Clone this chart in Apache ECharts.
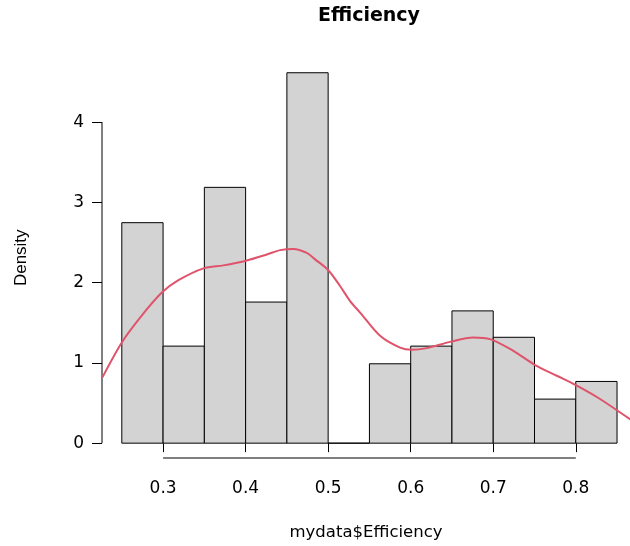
<!DOCTYPE html>
<html>
<head>
<meta charset="utf-8">
<script src="https://cdn.jsdelivr.net/npm/echarts@6/dist/echarts.min.js"></script>
<style>html,body{margin:0;padding:0;background:#fff;}#c{width:630px;height:546px;}</style>
</head>
<body>
<div id="c"></div>
<script>
// Histogram bins (density scale)
var binStarts = [0.25, 0.30, 0.35, 0.40, 0.45, 0.50, 0.55, 0.60, 0.65, 0.70, 0.75, 0.80];
var binEnds   = [0.30, 0.35, 0.40, 0.45, 0.50, 0.55, 0.60, 0.65, 0.70, 0.75, 0.80, 0.85];
var densities = [2.747, 1.209, 3.187, 1.758, 4.615, 0, 0.989, 1.209, 1.648, 1.319, 0.549, 0.769];

// Kernel density curve
var kdeX = [0.2265, 0.25, 0.2722, 0.2985, 0.3186, 0.3489, 0.3731, 0.3994, 0.4257, 0.4418, 0.4579, 0.4741, 0.4842, 0.4999, 0.5144, 0.5266, 0.5387, 0.5629, 0.5871, 0.6013, 0.6195, 0.6477, 0.6759, 0.6962, 0.7244, 0.7507, 0.7770, 0.8012, 0.8294, 0.8657, 0.874];
var kdeY = [0.82, 1.255, 1.565, 1.876, 2.03, 2.178, 2.215, 2.27, 2.35, 2.405, 2.42, 2.37, 2.29, 2.157, 1.958, 1.77, 1.627, 1.337, 1.19, 1.163, 1.184, 1.262, 1.317, 1.296, 1.15, 0.973, 0.84, 0.716, 0.55, 0.30, 0.25];

// Tick values
var xTicks = [0.3, 0.4, 0.5, 0.6, 0.7, 0.8];
var yTicks = [0, 1, 2, 3, 4];

var X_MIN = 0.226, X_MAX = 0.8657;
var Y_MIN = -0.1848, Y_MAX = 4.8048;

var barData = binStarts.map(function (s, i) { return [s, binEnds[i], densities[i]]; });
var kdeData = kdeX.map(function (x, i) { return [x, kdeY[i]]; });

var chart = echarts.init(document.getElementById('c'), null, {renderer: 'canvas'});
var hFont = 'DejaVu Sans';
chart.setOption({
  animation: false,
  backgroundColor: '#ffffff',
  title: {
    text: 'Efficiency',
    left: 369, top: 7, textAlign: 'center', padding: 0,
    textStyle: {fontFamily: hFont, fontWeight: 'bold', fontSize: 19, color: '#000'}
  },
  grid: {left: 102, right: 0, top: 57.5, bottom: 86.8, containLabel: false},
  xAxis: {
    type: 'value', min: X_MIN, max: X_MAX,
    name: 'mydata$Efficiency', nameLocation: 'middle', nameGap: 66,
    nameTextStyle: {fontFamily: hFont, fontSize: 16.5, color: '#000'},
    axisLine: {show: false},
    axisTick: {show: true, customValues: xTicks, length: 9, lineStyle: {color: '#000', width: 1}},
    axisLabel: {customValues: xTicks, margin: 22, fontFamily: hFont, fontSize: 17, color: '#000',
      formatter: function (v) { return v.toFixed(1); }},
    splitLine: {show: false}
  },
  yAxis: {
    type: 'value', min: Y_MIN, max: Y_MAX,
    name: 'Density', nameLocation: 'middle', nameGap: 72,
    nameTextStyle: {fontFamily: 'Liberation Sans', fontSize: 17, color: '#000'},
    axisLine: {show: false},
    axisTick: {show: true, customValues: yTicks, length: 10, lineStyle: {color: '#000', width: 1}},
    axisLabel: {customValues: yTicks, margin: 18, fontFamily: hFont, fontSize: 17, color: '#000'},
    splitLine: {show: false}
  },
  series: [
    {
      type: 'custom',
      name: 'hist',
      data: barData,
      renderItem: function (params, api) {
        var p0 = api.coord([api.value(0), api.value(2)]);
        var p1 = api.coord([api.value(1), 0]);
        return {
          type: 'rect',
          shape: {x: p0[0], y: p0[1], width: p1[0] - p0[0], height: p1[1] - p0[1]},
          style: {fill: '#D3D3D3', stroke: '#000', lineWidth: 1}
        };
      },
      z: 2
    },
    {
      type: 'custom',
      name: 'axes',
      data: [[0]],
      renderItem: function (params, api) {
        var a = api.coord([X_MIN, 0]), b = api.coord([X_MIN, 4]);
        var c = api.coord([0.3, Y_MIN]), d = api.coord([0.8, Y_MIN]);
        return {
          type: 'group',
          children: [
            {type: 'line', shape: {x1: a[0], y1: a[1], x2: b[0], y2: b[1]}, style: {stroke: '#000', lineWidth: 1}},
            {type: 'line', shape: {x1: c[0], y1: c[1], x2: d[0], y2: d[1]}, style: {stroke: '#000', lineWidth: 1}}
          ]
        };
      },
      z: 3
    },
    {
      type: 'line',
      name: 'density',
      data: kdeData,
      smooth: 0.3,
      showSymbol: false,
      symbol: 'none',
      clip: true,
      lineStyle: {color: '#DF536B', width: 2},
      z: 4
    }
  ]
});
</script>
</body>
</html>
